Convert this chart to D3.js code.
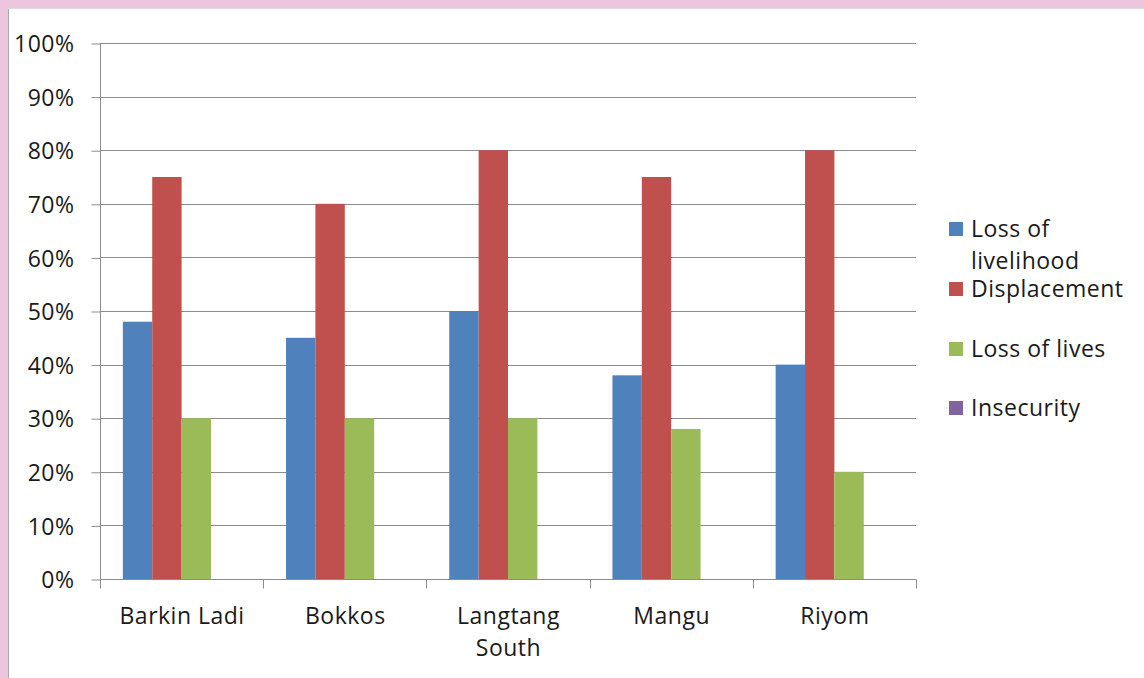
<!DOCTYPE html>
<html><head><meta charset="utf-8">
<script src="https://cdn.jsdelivr.net/npm/d3@7"></script>
<style>
body{margin:0;padding:0;background:#fff;}
svg{display:block;}
text{font-family:"Open Sans","Noto Sans",sans-serif;fill:#1a1a1a;letter-spacing:0.5px;}
</style></head>
<body>
<svg id="c" width="1144" height="678"></svg>
<script>
const categories = ["Barkin Ladi","Bokkos","Langtang South","Mangu","Riyom"];
const seriesNames = ["Loss of livelihood","Displacement","Loss of lives","Insecurity"];
const lossOfLivelihood = [48,45,50,38,40];
const displacement = [75,70,80,75,80];
const lossOfLives = [30,30,30,28,20];
const insecurity = [0,0,0,0,0];
const yTicks = [0,10,20,30,40,50,60,70,80,90,100];
const colors = ["#4F81BD","#C0504D","#9BBB59","#8064A2"];
const seriesValues = [lossOfLivelihood, displacement, lossOfLives, insecurity];

const FS = "23px";
const svg = d3.select("#c");
// pink frame
svg.append("rect").attr("x",0).attr("y",0).attr("width",1144).attr("height",8).attr("fill","#EEC5DE");
svg.append("rect").attr("x",0).attr("y",0).attr("width",8).attr("height",678).attr("fill","#EEC5DE");
svg.append("line").attr("x1",8.5).attr("x2",8.5).attr("y1",8).attr("y2",678).attr("stroke","#aaa").attr("stroke-width",1);
svg.append("line").attr("x1",8).attr("x2",1144).attr("y1",8.5).attr("y2",8.5).attr("stroke","#ddd").attr("stroke-width",1);

const pLeft=100, pRight=916, pTop=43, pBottom=579;
const y = d3.scaleLinear().domain([0,100]).range([pBottom, pTop]);
const x0 = d3.scaleBand().domain(categories).range([pLeft,pRight]).paddingInner(0).paddingOuter(0);
const groupFrac = 0.72;
const x1 = d3.scaleBand().domain(seriesNames).range([0, x0.bandwidth()*groupFrac]);
const groupOffset = x0.bandwidth()*(1-groupFrac)/2;

// gridlines
svg.append("g").selectAll("line").data(yTicks.filter(d=>d>0)).join("line")
  .attr("x1",pLeft).attr("x2",pRight)
  .attr("y1",d=>Math.round(y(d))+0.5).attr("y2",d=>Math.round(y(d))+0.5)
  .attr("stroke","#8c8c8c").attr("stroke-width",1);

// bars
const g = svg.append("g");
categories.forEach((c,ci)=>{
  seriesNames.forEach((s,si)=>{
    const v = seriesValues[si][ci];
    if (v<=0) return;
    g.append("rect")
      .attr("x", x0(c)+groupOffset+x1(s))
      .attr("y", y(v))
      .attr("width", x1.bandwidth())
      .attr("height", y(0)-y(v))
      .attr("fill", colors[si]);
  });
});

// y axis
const yAxis = d3.axisLeft(y).tickValues(yTicks).tickSize(9).tickPadding(17).tickFormat(d=>d+"%");
const ya = svg.append("g").attr("transform",`translate(${pLeft+0.5},0.5)`).call(yAxis);
ya.select(".domain").attr("stroke","#8c8c8c").attr("d",`M0,${pBottom}V${pTop}`);
ya.selectAll(".tick line").attr("stroke","#8c8c8c");
ya.selectAll(".tick text").style("font-size",FS).style("font-family",null).attr("font-family",null).attr("fill","#1a1a1a").attr("dy","0.36em");

// x axis
const xa = svg.append("g").attr("transform",`translate(0.5,${pBottom+0.5})`);
xa.append("line").attr("x1",pLeft).attr("x2",pRight).attr("stroke","#8c8c8c");
const bounds = categories.map(c=>x0(c)).concat([pRight]);
xa.selectAll(".tk").data(bounds).join("line").attr("class","tk")
  .attr("x1",d=>Math.round(d)).attr("x2",d=>Math.round(d)).attr("y1",0).attr("y2",9).attr("stroke","#8c8c8c");
categories.forEach(c=>{
  const cx = x0(c)+x0.bandwidth()/2;
  const words = c==="Langtang South" ? ["Langtang","South"] : [c];
  words.forEach((w,i)=>{
    xa.append("text").attr("x",cx).attr("y",44+i*32).attr("text-anchor","middle")
      .style("font-size",FS).text(w);
  });
});

// legend
const leg = svg.append("g");
const legItems = [
  {lines:["Loss of","livelihood"], sq:222},
  {lines:["Displacement"], sq:282},
  {lines:["Loss of lives"], sq:342},
  {lines:["Insecurity"], sq:401}
];
legItems.forEach((it,i)=>{
  leg.append("rect").attr("x",949).attr("y",it.sq).attr("width",14).attr("height",14).attr("fill",colors[i]);
  it.lines.forEach((l,j)=>{
    leg.append("text").attr("x",971).attr("y",it.sq+15+j*32).style("font-size",FS).text(l);
  });
});
</script>
</body></html>
